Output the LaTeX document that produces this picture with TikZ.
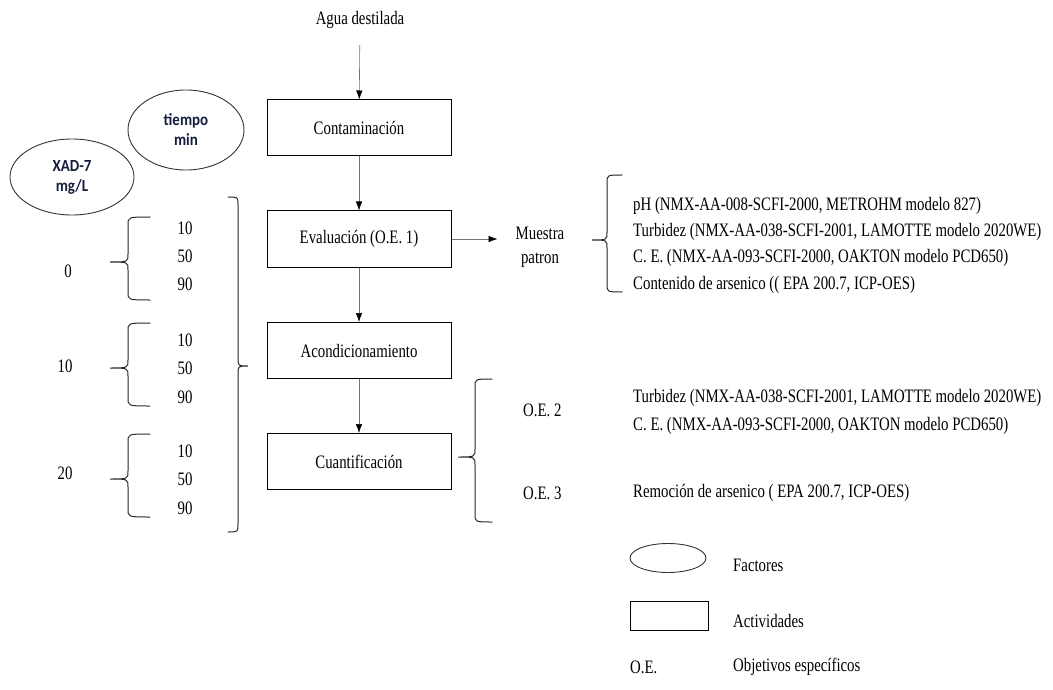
\documentclass[tikz,border=0pt]{standalone}
\usepackage{fontspec}
\setmainfont{Liberation Serif}[FakeStretch=0.78]
\newfontfamily\calib{Carlito}[FakeStretch=0.88]
\usetikzlibrary{shapes.geometric,arrows.meta}
\definecolor{navy}{RGB}{22,30,62}
\tikzset{
 txt/.style={font=\fontsize{19}{24}\selectfont, inner sep=0pt},
 box/.style={draw=black, line width=1pt, minimum width=184pt, minimum height=56pt, inner sep=0pt, txt},
 fac/.style={ellipse, draw=black!80, line width=0.9pt, inner sep=0pt, align=center, text=navy,
   font=\calib\bfseries\fontsize{17}{20}\selectfont},
 flow/.style={draw=black!55, line width=0.6pt, -{Latex[length=9pt,width=6.5pt,black]}},
 brk/.style={draw=black!85, line width=1pt, line cap=round},
}
\newcommand\mybr[6]{\draw[brk] (#3,#4) .. controls (#1,#4) .. (#1,{#4+8}) -- (#1,{#5-8}) .. controls (#1,#5) .. (#2,#5) .. controls (#1,#5) .. (#1,{#5+8}) -- (#1,{#6-8}) .. controls (#1,#6) .. (#3,#6);}
\begin{document}
\begin{tikzpicture}[x=1pt,y=-1pt]
\useasboundingbox (0,0) rectangle (1053,690);
% main flow
\node[txt] (agua) at (360,20) {Agua destilada};
\node[box] (cont) at (359,128) {Contaminación};
\node[box] (eval) at (359,239) {Evaluación (O.E. 1)};
\node[box] (acon) at (359,350.5) {Acondicionamiento};
\node[box] (cuan) at (359,461.5) {Cuantificación};
\node[txt, align=center] (muestra) at (540,247) {Muestra\\patron};
\draw[flow, shorten <=16pt] (agua) -- (cont);
\draw[flow] (cont) -- (eval);
\draw[flow] (eval) -- (acon);
\draw[flow] (acon) -- (cuan);
\draw[flow, shorten >=18pt] (eval.east) -- (eval.east -| muestra.west);
% factors
\node[fac, minimum width=116pt, minimum height=80pt] (tiempo) at (186,130) {tiempo\\min};
\node[fac, minimum width=124pt, minimum height=76pt] (xad) at (72,177) {XAD-7\\mg/L};
% left braces and values
\mybr{128}{110}{150}{217}{262}{300}
\mybr{128}{110}{150}{323}{368}{406}
\mybr{128}{110}{150}{434}{479}{517}
\mybr{238}{248}{228}{197}{366}{532}
\node[txt] (c0) at (68,271) {0};
\node[txt] (c10) at (65,366) {10};
\node[txt] (c20) at (65,473) {20};
\node[txt] (a1) at (185,228) {10};
\node[txt] (a2) at (185,256) {50};
\node[txt] (a3) at (185,284) {90};
\node[txt] (b1) at (185,340) {10};
\node[txt] (b2) at (185,368) {50};
\node[txt] (b3) at (185,397) {90};
\node[txt] (d1) at (185,451) {10};
\node[txt] (d2) at (185,479) {50};
\node[txt] (d3) at (185,508) {90};
% right braces
\mybr{607}{592}{622}{175}{240}{292}
\mybr{475}{458}{492}{379}{457}{522}
\node[txt, anchor=west] (r1) at (633,206) {pH (NMX-AA-008-SCFI-2000, METROHM modelo 827)};
\node[txt, anchor=west] (r2) at (633,232) {Turbidez (NMX-AA-038-SCFI-2001, LAMOTTE modelo 2020WE)};
\node[txt, anchor=west] (r3) at (633,258) {C. E. (NMX-AA-093-SCFI-2000, OAKTON modelo PCD650)};
\node[txt, anchor=west] (r4) at (633,285) {Contenido de arsenico (( EPA 200.7,  ICP-OES)};
\node[txt, anchor=west] (oe2) at (523,410) {O.E. 2};
\node[txt, anchor=west] (oe3) at (523,493) {O.E. 3};
\node[txt, anchor=west] (s1) at (633,398) {Turbidez (NMX-AA-038-SCFI-2001, LAMOTTE modelo 2020WE)};
\node[txt, anchor=west] (s2) at (633,426) {C. E. (NMX-AA-093-SCFI-2000, OAKTON modelo PCD650)};
\node[txt, anchor=west] (s3) at (633,493) {Remoción de arsenico ( EPA 200.7,  ICP-OES)};
% legend
\node[ellipse, draw=black!80, line width=0.9pt, minimum width=76pt, minimum height=29pt, inner sep=0pt] (lell) at (668,558) {};
\node[txt, anchor=west] (lfac) at (733,565) {Factores};
\node[draw=black, line width=1pt, minimum width=78pt, minimum height=29pt, inner sep=0pt] (lbox) at (669,615.5) {};
\node[txt, anchor=west] (lact) at (733,621) {Actividades};
\node[txt, anchor=west] (loe) at (630,667) {O.E.};
\node[txt, anchor=west] (lobj) at (733,667) {Objetivos específicos};
\end{tikzpicture}
\end{document}
